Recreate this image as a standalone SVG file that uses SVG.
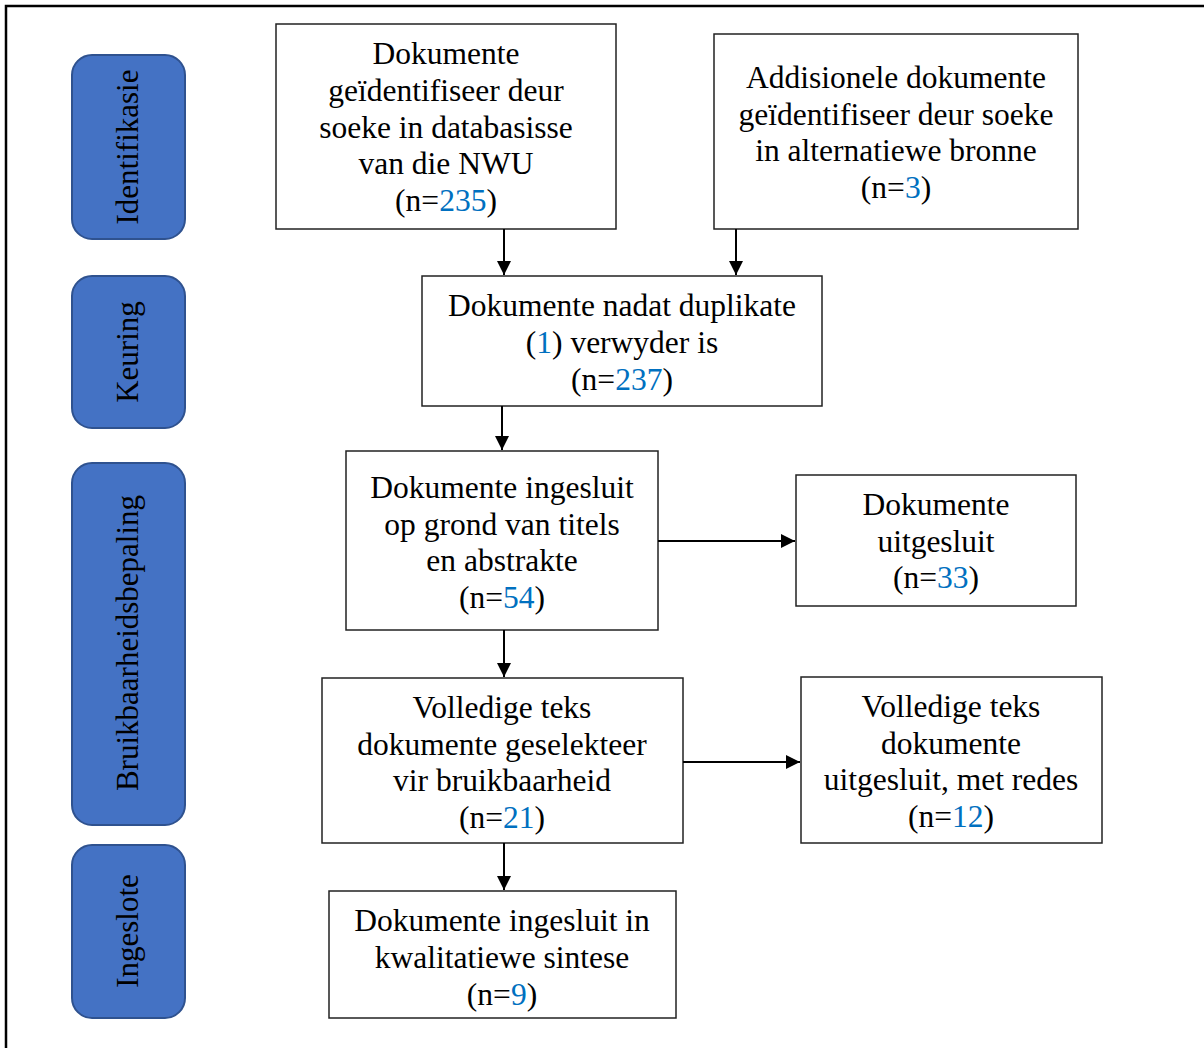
<svg xmlns="http://www.w3.org/2000/svg" width="1204" height="1048" viewBox="0 0 1204 1048">
<style>
.box{fill:#fff;stroke:#222;stroke-width:1.5}
.phase{fill:#4472C4;stroke:#2F528F;stroke-width:2}
text{font-family:"Liberation Serif","Times New Roman",serif;font-size:31.5px;fill:#000;text-anchor:middle}
.lbl{font-size:31px}
.n{fill:#0070C0}
.conn{stroke:#000;stroke-width:2;fill:none}
</style>
<defs>
<marker id="ah" viewBox="0 0 10 10" refX="10" refY="5" markerWidth="7" markerHeight="7" markerUnits="strokeWidth" orient="auto">
<path d="M0,0 L10,5 L0,10 z" fill="#000"/>
</marker>
</defs>
<rect width="1204" height="1048" fill="#fff"/>
<path d="M6,1048 V6 H1204" fill="none" stroke="#000" stroke-width="2.5"/>

<g id="phase-identifikasie">
<rect class="phase" x="72" y="55" width="113" height="184" rx="20"/>
<text class="lbl" transform="translate(128,147) rotate(-90)" y="10">Identifikasie</text>
</g>
<g id="phase-keuring">
<rect class="phase" x="72" y="276" width="113" height="152" rx="20"/>
<text class="lbl" transform="translate(128,352) rotate(-90)" y="10">Keuring</text>
</g>
<g id="phase-bruikbaarheid">
<rect class="phase" x="72" y="463" width="113" height="362" rx="20"/>
<text class="lbl" transform="translate(128,643) rotate(-90)" y="10">Bruikbaarheidsbepaling</text>
</g>
<g id="phase-ingeslote">
<rect class="phase" x="72" y="845" width="113" height="173" rx="20"/>
<text class="lbl" transform="translate(128,931) rotate(-90)" y="10">Ingeslote</text>
</g>

<g id="node-databasisse">
<rect class="box" x="276" y="24" width="340" height="205"/>
<text x="446" y="64">Dokumente</text>
<text x="446" y="101">geïdentifiseer deur</text>
<text x="446" y="138">soeke in databasisse</text>
<text x="446" y="174">van die NWU</text>
<text x="446" y="211">(n=<tspan class="n">235</tspan>)</text>
</g>
<g id="node-addisionele">
<rect class="box" x="714" y="34" width="364" height="195"/>
<text x="896" y="88">Addisionele dokumente</text>
<text x="896" y="125">geïdentifiseer deur soeke</text>
<text x="896" y="161">in alternatiewe bronne</text>
<text x="896" y="198">(n=<tspan class="n">3</tspan>)</text>
</g>
<g id="node-duplikate">
<rect class="box" x="422" y="276" width="400" height="130"/>
<text x="622" y="316">Dokumente nadat duplikate</text>
<text x="622" y="353">(<tspan class="n">1</tspan>) verwyder is</text>
<text x="622" y="390">(n=<tspan class="n">237</tspan>)</text>
</g>
<g id="node-titels">
<rect class="box" x="346" y="451" width="312" height="179"/>
<text x="502" y="498">Dokumente ingesluit</text>
<text x="502" y="535">op grond van titels</text>
<text x="502" y="571">en abstrakte</text>
<text x="502" y="608">(n=<tspan class="n">54</tspan>)</text>
</g>
<g id="node-uitgesluit">
<rect class="box" x="796" y="475" width="280" height="131"/>
<text x="936" y="515">Dokumente</text>
<text x="936" y="552">uitgesluit</text>
<text x="936" y="588">(n=<tspan class="n">33</tspan>)</text>
</g>
<g id="node-volledige">
<rect class="box" x="322" y="678" width="361" height="165"/>
<text x="502" y="718">Volledige teks</text>
<text x="502" y="755">dokumente geselekteer</text>
<text x="502" y="791">vir bruikbaarheid</text>
<text x="502" y="828">(n=<tspan class="n">21</tspan>)</text>
</g>
<g id="node-redes">
<rect class="box" x="801" y="677" width="301" height="166"/>
<text x="951" y="717">Volledige teks</text>
<text x="951" y="754">dokumente</text>
<text x="951" y="790">uitgesluit, met redes</text>
<text x="951" y="827">(n=<tspan class="n">12</tspan>)</text>
</g>
<g id="node-sintese">
<rect class="box" x="329" y="891" width="347" height="127"/>
<text x="502" y="931">Dokumente ingesluit in</text>
<text x="502" y="968">kwalitatiewe sintese</text>
<text x="502" y="1005">(n=<tspan class="n">9</tspan>)</text>
</g>

<g id="connectors">
<line class="conn" x1="504" y1="229" x2="504" y2="275" marker-end="url(#ah)"/>
<line class="conn" x1="736" y1="229" x2="736" y2="275" marker-end="url(#ah)"/>
<line class="conn" x1="502" y1="406" x2="502" y2="450" marker-end="url(#ah)"/>
<line class="conn" x1="658" y1="541" x2="795" y2="541" marker-end="url(#ah)"/>
<line class="conn" x1="504" y1="630" x2="504" y2="677" marker-end="url(#ah)"/>
<line class="conn" x1="683" y1="762" x2="800" y2="762" marker-end="url(#ah)"/>
<line class="conn" x1="504" y1="843" x2="504" y2="890" marker-end="url(#ah)"/>
</g>
</svg>
